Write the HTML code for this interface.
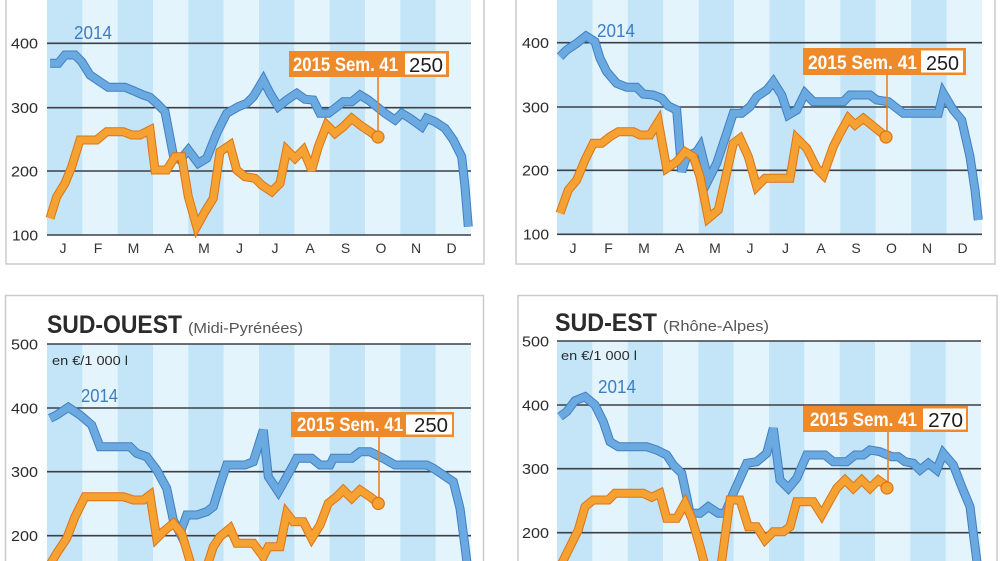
<!DOCTYPE html>
<html><head><meta charset="utf-8"><style>
html,body{margin:0;padding:0;background:#fff;}
svg{display:block;}
text{font-family:"Liberation Sans",sans-serif;}
</style></head><body>
<svg width="1000" height="561" viewBox="0 0 1000 561" xmlns="http://www.w3.org/2000/svg">
<rect x="0" y="0" width="1000" height="561" fill="#fff"/>
<!-- panels -->
<rect x="6" y="-10" width="478" height="274" fill="#fff" stroke="#cbcbcb" stroke-width="1.5"/>
<rect x="516" y="-10" width="479" height="274" fill="#fff" stroke="#cbcbcb" stroke-width="1.5"/>
<rect x="5.5" y="295.5" width="478" height="280" fill="#fff" stroke="#cbcbcb" stroke-width="1.5"/>
<rect x="518" y="295.5" width="479" height="280" fill="#fff" stroke="#cbcbcb" stroke-width="1.5"/>

<!-- stripes TL -->
<g>
<rect x="47" y="0" width="424" height="235" fill="#e3f4fc"/>
<rect x="47" y="0" width="35.3" height="235" fill="#c4e5f7"/>
<rect x="117.7" y="0" width="35.3" height="235" fill="#c4e5f7"/>
<rect x="188.3" y="0" width="35.3" height="235" fill="#c4e5f7"/>
<rect x="259" y="0" width="35.3" height="235" fill="#c4e5f7"/>
<rect x="329.7" y="0" width="35.3" height="235" fill="#c4e5f7"/>
<rect x="400.3" y="0" width="35.3" height="235" fill="#c4e5f7"/>
</g>
<!-- stripes TR -->
<g>
<rect x="557" y="0" width="425" height="234" fill="#e3f4fc"/>
<rect x="557" y="0" width="35.4" height="234" fill="#c4e5f7"/>
<rect x="627.8" y="0" width="35.4" height="234" fill="#c4e5f7"/>
<rect x="698.7" y="0" width="35.4" height="234" fill="#c4e5f7"/>
<rect x="769.5" y="0" width="35.4" height="234" fill="#c4e5f7"/>
<rect x="840.3" y="0" width="35.4" height="234" fill="#c4e5f7"/>
<rect x="911.2" y="0" width="35.4" height="234" fill="#c4e5f7"/>
</g>
<!-- stripes BL -->
<g>
<rect x="47" y="344" width="424" height="217" fill="#e3f4fc"/>
<rect x="47" y="344" width="35.3" height="217" fill="#c4e5f7"/>
<rect x="117.7" y="344" width="35.3" height="217" fill="#c4e5f7"/>
<rect x="188.3" y="344" width="35.3" height="217" fill="#c4e5f7"/>
<rect x="259" y="344" width="35.3" height="217" fill="#c4e5f7"/>
<rect x="329.7" y="344" width="35.3" height="217" fill="#c4e5f7"/>
<rect x="400.3" y="344" width="35.3" height="217" fill="#c4e5f7"/>
</g>
<!-- stripes BR -->
<g>
<rect x="557" y="341" width="424" height="220" fill="#e3f4fc"/>
<rect x="557" y="341" width="35.3" height="220" fill="#c4e5f7"/>
<rect x="627.7" y="341" width="35.3" height="220" fill="#c4e5f7"/>
<rect x="698.3" y="341" width="35.3" height="220" fill="#c4e5f7"/>
<rect x="769" y="341" width="35.3" height="220" fill="#c4e5f7"/>
<rect x="839.7" y="341" width="35.3" height="220" fill="#c4e5f7"/>
<rect x="910.3" y="341" width="35.3" height="220" fill="#c4e5f7"/>
</g>

<!-- gridlines -->
<g stroke="#3c3f44" stroke-width="1.6">
<line x1="47" y1="43.3" x2="471" y2="43.3"/>
<line x1="47" y1="107.7" x2="471" y2="107.7"/>
<line x1="47" y1="171" x2="471" y2="171"/>
<line x1="47" y1="235" x2="471" y2="235"/>
<line x1="557" y1="42.7" x2="982" y2="42.7"/>
<line x1="557" y1="107" x2="982" y2="107"/>
<line x1="557" y1="170.3" x2="982" y2="170.3"/>
<line x1="557" y1="234.3" x2="982" y2="234.3"/>
<line x1="47" y1="344" x2="471" y2="344"/>
<line x1="47" y1="408" x2="471" y2="408"/>
<line x1="47" y1="471.7" x2="471" y2="471.7"/>
<line x1="47" y1="535.7" x2="471" y2="535.7"/>
<line x1="557" y1="341" x2="981" y2="341"/>
<line x1="557" y1="405" x2="981" y2="405"/>
<line x1="557" y1="468.7" x2="981" y2="468.7"/>
<line x1="557" y1="532.7" x2="981" y2="532.7"/>
</g>

<!-- y labels -->
<g font-size="15" fill="#2b2b2b">
<text x="11" y="48.5" textLength="27" lengthAdjust="spacingAndGlyphs">400</text>
<text x="11" y="113" textLength="27" lengthAdjust="spacingAndGlyphs">300</text>
<text x="11" y="176.3" textLength="27" lengthAdjust="spacingAndGlyphs">200</text>
<text x="12" y="240.3" textLength="26" lengthAdjust="spacingAndGlyphs">100</text>
<text x="522" y="48" textLength="27" lengthAdjust="spacingAndGlyphs">400</text>
<text x="522" y="112.3" textLength="27" lengthAdjust="spacingAndGlyphs">300</text>
<text x="522" y="175.6" textLength="27" lengthAdjust="spacingAndGlyphs">200</text>
<text x="523" y="239.6" textLength="26" lengthAdjust="spacingAndGlyphs">100</text>
<text x="11" y="349.3" textLength="27" lengthAdjust="spacingAndGlyphs">500</text>
<text x="11" y="413.3" textLength="27" lengthAdjust="spacingAndGlyphs">400</text>
<text x="11" y="477" textLength="27" lengthAdjust="spacingAndGlyphs">300</text>
<text x="11" y="541" textLength="27" lengthAdjust="spacingAndGlyphs">200</text>
<text x="522" y="346.3" textLength="27" lengthAdjust="spacingAndGlyphs">500</text>
<text x="522" y="410.3" textLength="27" lengthAdjust="spacingAndGlyphs">400</text>
<text x="522" y="474" textLength="27" lengthAdjust="spacingAndGlyphs">300</text>
<text x="522" y="538" textLength="27" lengthAdjust="spacingAndGlyphs">200</text>
</g>

<!-- month labels -->
<g font-size="14" fill="#333" text-anchor="middle">
<text x="63" y="253">J</text><text x="98" y="253">F</text><text x="133.5" y="253">M</text><text x="169" y="253">A</text><text x="204" y="253">M</text><text x="239.5" y="253">J</text><text x="275" y="253">J</text><text x="310" y="253">A</text><text x="345.5" y="253">S</text><text x="381" y="253">O</text><text x="416" y="253">N</text><text x="451.5" y="253">D</text>
<text x="573" y="253">J</text><text x="608.5" y="253">F</text><text x="644" y="253">M</text><text x="679.5" y="253">A</text><text x="715" y="253">M</text><text x="750" y="253">J</text><text x="785.5" y="253">J</text><text x="821" y="253">A</text><text x="856" y="253">S</text><text x="891.5" y="253">O</text><text x="927" y="253">N</text><text x="962.5" y="253">D</text>
</g>

<!-- titles -->
<text x="47" y="333" font-size="25" font-weight="bold" fill="#2b2b2b" textLength="135" lengthAdjust="spacingAndGlyphs">SUD-OUEST</text>
<text x="188" y="333" font-size="15" fill="#555" textLength="115" lengthAdjust="spacingAndGlyphs">(Midi-Pyrénées)</text>
<text x="555" y="331" font-size="25" font-weight="bold" fill="#2b2b2b" textLength="102" lengthAdjust="spacingAndGlyphs">SUD-EST</text>
<text x="663" y="331" font-size="15" fill="#555" textLength="106" lengthAdjust="spacingAndGlyphs">(Rhône-Alpes)</text>
<text x="52" y="365" font-size="13" fill="#2b2b2b" textLength="76" lengthAdjust="spacingAndGlyphs">en €/1 000 l</text>
<text x="561" y="360" font-size="13" fill="#2b2b2b" textLength="76" lengthAdjust="spacingAndGlyphs">en €/1 000 l</text>

<!-- 2014 labels -->
<g font-size="18" fill="#3f7cc0">
<text x="74" y="39" textLength="38" lengthAdjust="spacingAndGlyphs">2014</text>
<text x="597" y="37" textLength="38" lengthAdjust="spacingAndGlyphs">2014</text>
<text x="81" y="402" textLength="37" lengthAdjust="spacingAndGlyphs">2014</text>
<text x="598" y="393" textLength="38" lengthAdjust="spacingAndGlyphs">2014</text>
</g>

<!-- series -->
<g fill="none" stroke-linejoin="miter" stroke-miterlimit="3">
<!-- TL blue -->
<polyline stroke="#407fc3" stroke-width="9" points="50,63.3 58.3,63.3 65,55 75,55 81.7,61.7 90,75 100,81.7 108.3,87.3 125,87.3 133.3,90.7 143.3,95 150,97.3 156.7,103.3 165,111.7 173.3,155 180,160 188.3,150 198.3,163.3 206.7,158.3 216.7,133.3 226.7,113.3 238.3,106.7 246.7,103.3 253.3,96.7 263.3,80 270,93.3 278.3,106.7 286.7,100 296.7,93.3 305,99.3 313.3,100 320,113.3 328.3,113.3 335,108.3 343.3,101.7 351.7,101.7 360,95 368.3,100 376.7,106.7 385,113.3 395,120 401.7,113.3 410,118.3 421.7,126.7 426.7,118.3 435,121.7 445,128.3 453.3,140 461.7,156.7 465,186.7 468.3,226.7"/>
<polyline stroke="#6aaae1" stroke-width="7" points="50,63.3 58.3,63.3 65,55 75,55 81.7,61.7 90,75 100,81.7 108.3,87.3 125,87.3 133.3,90.7 143.3,95 150,97.3 156.7,103.3 165,111.7 173.3,155 180,160 188.3,150 198.3,163.3 206.7,158.3 216.7,133.3 226.7,113.3 238.3,106.7 246.7,103.3 253.3,96.7 263.3,80 270,93.3 278.3,106.7 286.7,100 296.7,93.3 305,99.3 313.3,100 320,113.3 328.3,113.3 335,108.3 343.3,101.7 351.7,101.7 360,95 368.3,100 376.7,106.7 385,113.3 395,120 401.7,113.3 410,118.3 421.7,126.7 426.7,118.3 435,121.7 445,128.3 453.3,140 461.7,156.7 465,186.7 468.3,226.7"/>
<!-- TL orange -->
<polyline stroke="#dd7318" stroke-width="9" points="50,218.3 56.7,196.7 65,183.3 71.7,166.7 80,140 96.7,140 106.7,131.7 123.3,131.7 131.7,135 140,135 150,130 155,170 166.7,170 175,156.7 181.7,156.7 188.3,196.7 196.7,226.7 205,211.7 213.3,198.3 220,151.7 230,145 236.7,170 245,176.7 255,178.3 261.7,185 271.7,191.7 280,183.3 286.7,150 295,158.3 303.3,150 311.7,170 318.3,146.7 326.7,125 335,133.3 343.3,126.7 351.7,118.3 360,125 370,131.7 377.7,137.3"/>
<polyline stroke="#f5a232" stroke-width="7" points="50,218.3 56.7,196.7 65,183.3 71.7,166.7 80,140 96.7,140 106.7,131.7 123.3,131.7 131.7,135 140,135 150,130 155,170 166.7,170 175,156.7 181.7,156.7 188.3,196.7 196.7,226.7 205,211.7 213.3,198.3 220,151.7 230,145 236.7,170 245,176.7 255,178.3 261.7,185 271.7,191.7 280,183.3 286.7,150 295,158.3 303.3,150 311.7,170 318.3,146.7 326.7,125 335,133.3 343.3,126.7 351.7,118.3 360,125 370,131.7 377.7,137.3"/>

<!-- TR blue -->
<polyline stroke="#407fc3" stroke-width="9" points="560,56.7 566.7,50 576.7,43.3 586,36 595,41.7 600,58.3 606.7,71.7 616.7,83.3 626.7,87.3 636.7,87.3 643.3,94 653.3,95 661.7,98.3 668.3,106 676.7,110 681.7,171.7 686.7,156.7 696.7,151.7 700,146.7 708.3,180 716.7,163.3 733.3,113.3 741.7,113.3 750,106.7 756.7,96.7 766.7,90 773.3,81.7 781.7,95 788.3,115 796.7,110 805,93.3 813.3,101.7 843.3,101.7 850,95 870,95 876.7,100 888.3,101.7 903.3,113.3 938.3,113.3 943.3,93.3 953.3,110 961.7,120 970,156.7 975,190 978.3,220"/>
<polyline stroke="#6aaae1" stroke-width="7" points="560,56.7 566.7,50 576.7,43.3 586,36 595,41.7 600,58.3 606.7,71.7 616.7,83.3 626.7,87.3 636.7,87.3 643.3,94 653.3,95 661.7,98.3 668.3,106 676.7,110 681.7,171.7 686.7,156.7 696.7,151.7 700,146.7 708.3,180 716.7,163.3 733.3,113.3 741.7,113.3 750,106.7 756.7,96.7 766.7,90 773.3,81.7 781.7,95 788.3,115 796.7,110 805,93.3 813.3,101.7 843.3,101.7 850,95 870,95 876.7,100 888.3,101.7 903.3,113.3 938.3,113.3 943.3,93.3 953.3,110 961.7,120 970,156.7 975,190 978.3,220"/>
<!-- TR orange -->
<polyline stroke="#dd7318" stroke-width="9" points="560,213.3 568.3,190 576.7,180 585,160 593.3,143.3 601.7,143.3 610,136.7 618.3,131.7 633.3,131.7 640,135 650,135 658.3,121.7 666.7,168.3 676.7,161.7 685,151.7 693.3,156.7 700,176.7 708.3,218.3 718.3,210 733.3,143.3 740,138.3 748.3,156.7 756.7,186.7 765,178.3 790,178.3 796.7,138.3 806.7,148.3 816.7,168.3 823.3,175 833.3,146.7 840,133.3 848.3,118.3 855,125 863.3,118.3 871.7,125 880,131.7 886,136.7"/>
<polyline stroke="#f5a232" stroke-width="7" points="560,213.3 568.3,190 576.7,180 585,160 593.3,143.3 601.7,143.3 610,136.7 618.3,131.7 633.3,131.7 640,135 650,135 658.3,121.7 666.7,168.3 676.7,161.7 685,151.7 693.3,156.7 700,176.7 708.3,218.3 718.3,210 733.3,143.3 740,138.3 748.3,156.7 756.7,186.7 765,178.3 790,178.3 796.7,138.3 806.7,148.3 816.7,168.3 823.3,175 833.3,146.7 840,133.3 848.3,118.3 855,125 863.3,118.3 871.7,125 880,131.7 886,136.7"/>

<!-- BL blue -->
<polyline stroke="#407fc3" stroke-width="9" points="50,418.3 56.7,415 68.3,407.3 80,415 91.7,425 100,446.7 130,446.7 136.7,453.3 146.7,456.7 156.7,470 166.7,488.3 173.3,520 180,533.3 186.7,515 196.7,515 206.7,511.7 213.3,506.7 220,485 226.7,465 245,465 253.3,461.7 263.3,430 268.3,476.7 278.3,491.7 293.3,465 296.7,458.3 311.7,458.3 320,465 330,465 333.3,458.3 351.7,458.3 360,451.7 370,451.7 383.3,458.3 395,465 426.7,465 433.3,468.3 443.3,475 453.3,481.7 460,508.3 465,546.7 467.3,565"/>
<polyline stroke="#6aaae1" stroke-width="7" points="50,418.3 56.7,415 68.3,407.3 80,415 91.7,425 100,446.7 130,446.7 136.7,453.3 146.7,456.7 156.7,470 166.7,488.3 173.3,520 180,533.3 186.7,515 196.7,515 206.7,511.7 213.3,506.7 220,485 226.7,465 245,465 253.3,461.7 263.3,430 268.3,476.7 278.3,491.7 293.3,465 296.7,458.3 311.7,458.3 320,465 330,465 333.3,458.3 351.7,458.3 360,451.7 370,451.7 383.3,458.3 395,465 426.7,465 433.3,468.3 443.3,475 453.3,481.7 460,508.3 465,546.7 467.3,565"/>
<!-- BL orange -->
<polyline stroke="#dd7318" stroke-width="9" points="48,568 56.7,553.3 66.7,538.3 75,516.7 85,496.7 123.3,496.7 133.3,500 143.3,500 150,495 156.7,538.3 163.3,531.7 173.3,523.3 181.7,533.3 192,568 206.5,568 213.3,546.7 220,536.7 230,528.3 236.7,543.3 253.3,543.3 263.3,556.7 268.3,546.7 280,546.7 286.7,513.3 293.3,521.7 303.3,521.7 311.7,538.3 320,525 328.3,503.3 336.7,496.7 343.3,490 351.7,498.3 360,490 370,496.7 378.3,503.3"/>
<polyline stroke="#f5a232" stroke-width="7" points="48,568 56.7,553.3 66.7,538.3 75,516.7 85,496.7 123.3,496.7 133.3,500 143.3,500 150,495 156.7,538.3 163.3,531.7 173.3,523.3 181.7,533.3 192,568 206.5,568 213.3,546.7 220,536.7 230,528.3 236.7,543.3 253.3,543.3 263.3,556.7 268.3,546.7 280,546.7 286.7,513.3 293.3,521.7 303.3,521.7 311.7,538.3 320,525 328.3,503.3 336.7,496.7 343.3,490 351.7,498.3 360,490 370,496.7 378.3,503.3"/>

<!-- BR blue -->
<polyline stroke="#407fc3" stroke-width="9" points="560,416.7 566.7,411.7 575,400.7 585,396.7 595,405 603.3,421.7 610,441.7 618.3,446.7 646.7,446.7 656.7,450 666.7,455 673.3,465 681.7,473.3 686.7,496.7 690,513.3 700,513.3 708.3,506.7 718.3,513.3 725,513.3 733.3,493.3 746.7,463.3 756.7,461.7 766.7,453.3 773.3,428.3 780,480 788.3,488.3 796.7,478.3 806.7,455 825,455 833.3,461.7 846.7,461.7 855,455 863.3,455 870,450 880,451.7 891.7,456.7 898.3,456.7 905,461.7 913.3,463.3 920,470 928.3,463.3 936.7,470 943.3,453.3 953.3,465 961.7,486.7 970,506.7 973.3,533.3 977.5,566"/>
<polyline stroke="#6aaae1" stroke-width="7" points="560,416.7 566.7,411.7 575,400.7 585,396.7 595,405 603.3,421.7 610,441.7 618.3,446.7 646.7,446.7 656.7,450 666.7,455 673.3,465 681.7,473.3 686.7,496.7 690,513.3 700,513.3 708.3,506.7 718.3,513.3 725,513.3 733.3,493.3 746.7,463.3 756.7,461.7 766.7,453.3 773.3,428.3 780,480 788.3,488.3 796.7,478.3 806.7,455 825,455 833.3,461.7 846.7,461.7 855,455 863.3,455 870,450 880,451.7 891.7,456.7 898.3,456.7 905,461.7 913.3,463.3 920,470 928.3,463.3 936.7,470 943.3,453.3 953.3,465 961.7,486.7 970,506.7 973.3,533.3 977.5,566"/>
<!-- BR orange -->
<polyline stroke="#dd7318" stroke-width="9" points="560,567 570,546.7 578.3,530 585,506.7 593.3,500 608.3,500 615,493.3 643.3,493.3 651.7,497.3 660,493.3 666.7,518.3 676.7,518.3 685,503.3 691.7,518.3 700,546.7 705,566 721,566 730,500 740,500 748.3,526.7 756.7,526.7 765,540 773.3,531.7 783.3,531.7 790,526.7 796.7,501.7 813.3,501.7 821.7,515 830,500 836.7,488.3 845,480 853.3,488.3 861.7,480 870,488.3 878.3,480 886.7,486"/>
<polyline stroke="#f5a232" stroke-width="7" points="560,567 570,546.7 578.3,530 585,506.7 593.3,500 608.3,500 615,493.3 643.3,493.3 651.7,497.3 660,493.3 666.7,518.3 676.7,518.3 685,503.3 691.7,518.3 700,546.7 705,566 721,566 730,500 740,500 748.3,526.7 756.7,526.7 765,540 773.3,531.7 783.3,531.7 790,526.7 796.7,501.7 813.3,501.7 821.7,515 830,500 836.7,488.3 845,480 853.3,488.3 861.7,480 870,488.3 878.3,480 886.7,486"/>
</g>

<!-- annotations -->
<g>
<line x1="378" y1="77" x2="378" y2="132" stroke="#e8822a" stroke-width="1.6"/>
<circle cx="378" cy="137" r="6" fill="#f5a232" stroke="#dd7318" stroke-width="1.2"/>
<rect x="289" y="51" width="160" height="26" fill="#ef8a2b"/>
<rect x="405" y="53.5" width="41" height="21" fill="#fff"/>
<text x="293" y="71" font-size="19" font-weight="bold" fill="#fff" textLength="105" lengthAdjust="spacingAndGlyphs">2015 Sem. 41</text>
<text x="409" y="72" font-size="20" fill="#1e1e1e" textLength="34" lengthAdjust="spacingAndGlyphs">250</text>

<line x1="887" y1="75" x2="887" y2="132" stroke="#e8822a" stroke-width="1.6"/>
<circle cx="886" cy="137" r="6" fill="#f5a232" stroke="#dd7318" stroke-width="1.2"/>
<rect x="803" y="48" width="163" height="27" fill="#ef8a2b"/>
<rect x="921" y="50.5" width="42" height="22" fill="#fff"/>
<text x="808" y="69" font-size="19" font-weight="bold" fill="#fff" textLength="109" lengthAdjust="spacingAndGlyphs">2015 Sem. 41</text>
<text x="926" y="70" font-size="20" fill="#1e1e1e" textLength="33" lengthAdjust="spacingAndGlyphs">250</text>

<line x1="379" y1="437" x2="379" y2="498" stroke="#e8822a" stroke-width="1.6"/>
<circle cx="378.3" cy="503.5" r="6" fill="#f5a232" stroke="#dd7318" stroke-width="1.2"/>
<rect x="291" y="412" width="163" height="25" fill="#ef8a2b"/>
<rect x="406" y="414.5" width="46" height="20" fill="#fff"/>
<text x="297" y="431" font-size="19" font-weight="bold" fill="#fff" textLength="106" lengthAdjust="spacingAndGlyphs">2015 Sem. 41</text>
<text x="414" y="432" font-size="20" fill="#1e1e1e" textLength="34" lengthAdjust="spacingAndGlyphs">250</text>

<line x1="888" y1="432" x2="888" y2="482" stroke="#e8822a" stroke-width="1.6"/>
<circle cx="887" cy="488" r="6" fill="#f5a232" stroke="#dd7318" stroke-width="1.2"/>
<rect x="803" y="406" width="165" height="26" fill="#ef8a2b"/>
<rect x="923" y="408.5" width="43" height="21" fill="#fff"/>
<text x="810" y="426" font-size="19" font-weight="bold" fill="#fff" textLength="107" lengthAdjust="spacingAndGlyphs">2015 Sem. 41</text>
<text x="928" y="427" font-size="20" fill="#1e1e1e" textLength="35" lengthAdjust="spacingAndGlyphs">270</text>
</g>
</svg>
</body></html>
